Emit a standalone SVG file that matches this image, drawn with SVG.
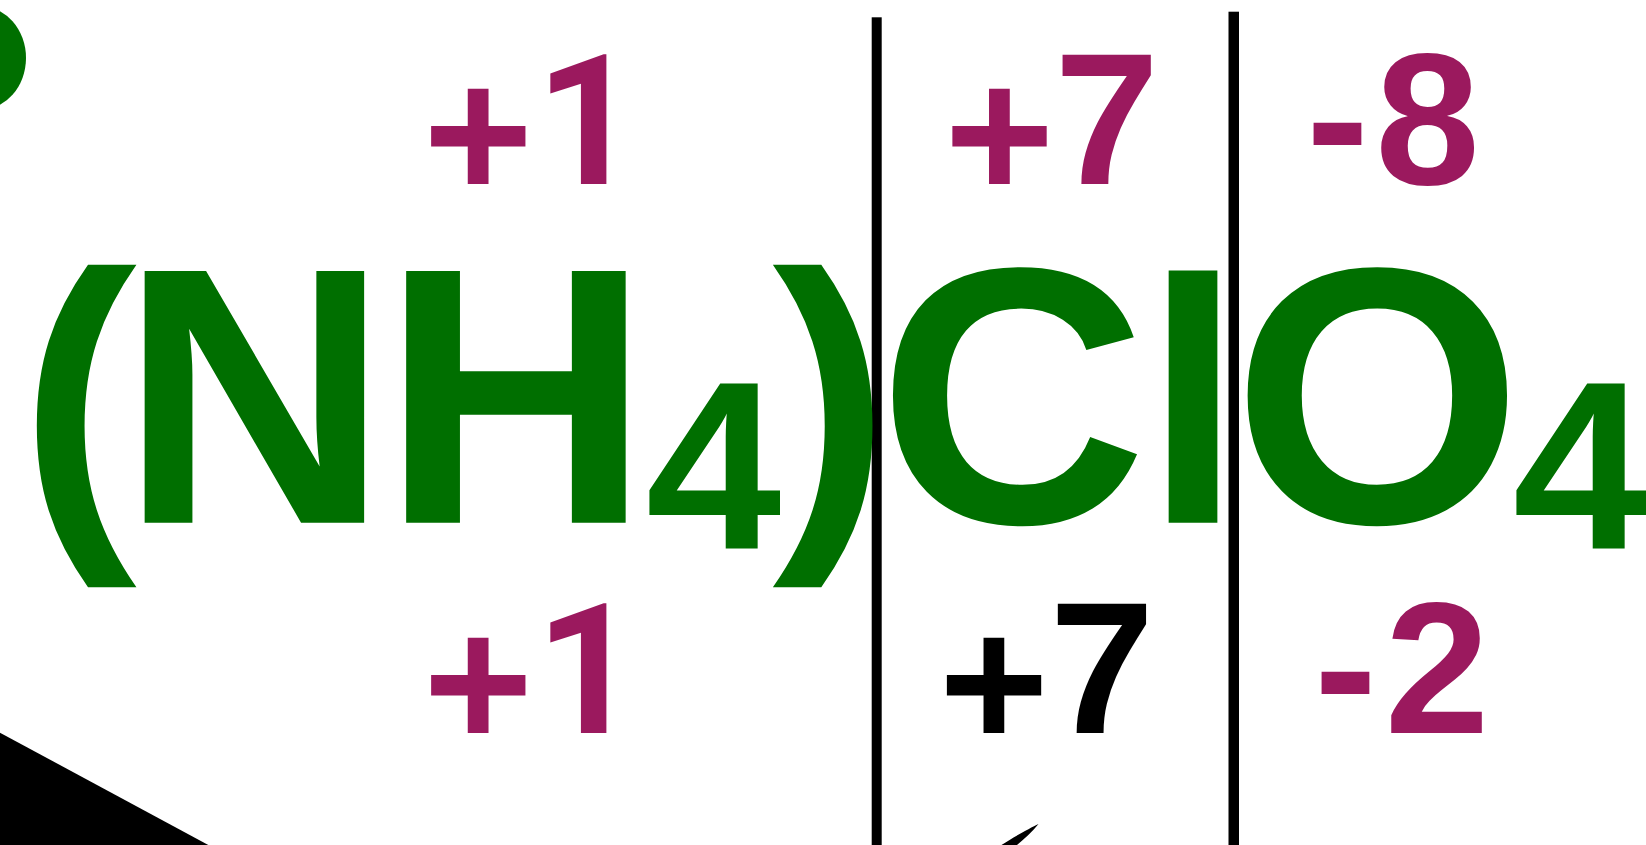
<svg xmlns="http://www.w3.org/2000/svg" width="1646" height="845" viewBox="0 0 1646 845">
<style>
.f{font-family:"Liberation Sans",Arial,sans-serif;font-weight:bold;text-anchor:middle}
.g{fill:#006f00}
.m{fill:#9b195e}
.k{fill:#000}
.lbl{font-size:188px}
.one{font-family:Roboto,"Liberation Sans",sans-serif;font-size:181px}
.big{font-size:366px}
.par{font-size:346px}
.ell{font-size:348px}
.sub{font-size:239px}
</style>
<rect width="1646" height="845" fill="#fff"/>
<g id="edge-shapes">
<ellipse cx="-20" cy="58" rx="46" ry="52" class="g"/>
<polygon points="0,732.7 208.3,845 0,845" class="k"/>
<path d="M1038.5,824 C1030,828 1012,838 1001.5,845 L1017,845 C1025,838 1032,832 1038.5,824 Z" class="k"/>
</g>
<g id="connectors">
<rect x="871.7" y="17.3" width="10" height="828" class="k"/>
<rect x="1228.5" y="11.7" width="10.5" height="834" class="k"/>
</g>
<g id="formula">
<text class="f g big" transform="scale(1.02,1)"><tspan class="par" x="76.5" y="515.5">(</tspan><tspan x="249.5" y="522.7">N</tspan><tspan x="505.9" y="522.7">H</tspan><tspan class="sub" x="699.5" y="549">4</tspan><tspan class="par" x="815" y="515.5">)</tspan><tspan x="992.6" y="522.7">C</tspan><tspan class="ell" x="1169.8" y="522.7">l</tspan><tspan x="1350.5" y="522.7">O</tspan><tspan class="sub" x="1549.5" y="549">4</tspan></text>
</g>
<g id="label-top-1">
<text class="f m lbl"><tspan x="478.2" y="198.8">+</tspan><tspan class="one" x="587.5" y="183.7">1</tspan></text>
</g>
<g id="label-top-7">
<text class="f m lbl"><tspan x="999.3" y="198.8">+</tspan><tspan x="1106.9" y="183.7">7</tspan></text>
</g>
<g id="label-top-8">
<text class="f m lbl"><tspan x="1337.5" y="181.5">-</tspan><tspan x="1427.5" y="183.7">8</tspan></text>
</g>
<g id="label-bottom-1">
<text class="f m lbl"><tspan x="478.2" y="747.8">+</tspan><tspan class="one" x="587.5" y="732.7">1</tspan></text>
</g>
<g id="label-bottom-7">
<text class="f k lbl"><tspan x="994" y="747.8">+</tspan><tspan x="1102" y="732.7">7</tspan></text>
</g>
<g id="label-bottom-2">
<text class="f m lbl"><tspan x="1345.5" y="730.5">-</tspan><tspan x="1437" y="732.7">2</tspan></text>
</g>
</svg>
